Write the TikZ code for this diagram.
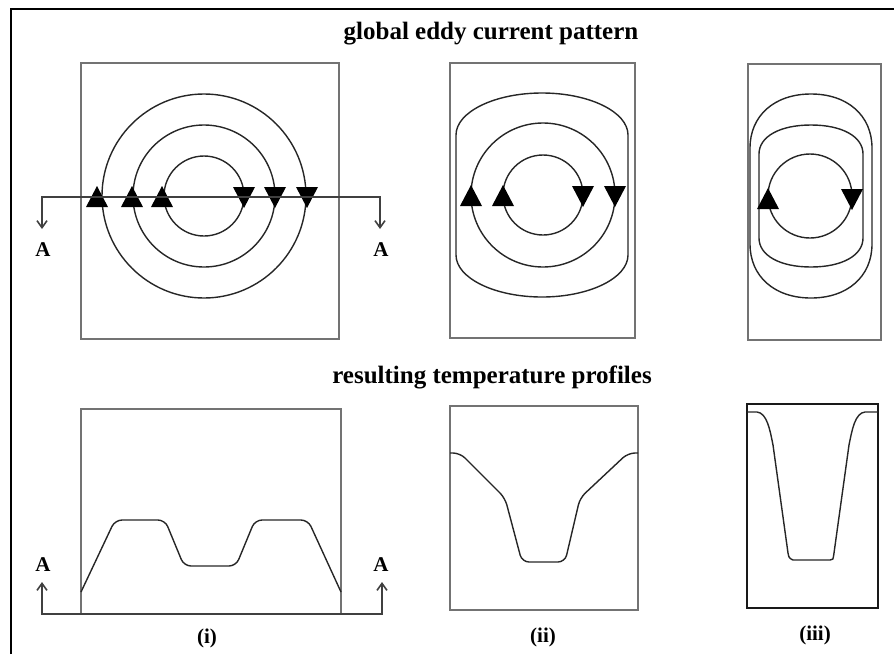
\documentclass[tikz,border=0pt]{standalone}
\usepackage{fontspec}
\setmainfont{Liberation Serif}
\usetikzlibrary{arrows.meta,positioning}

% loop about (#1,#2): half height #3, half width #4, straight half side #5, corner squareness #6
\newcommand{\flatloop}[6]{%
  \draw[loop] (#1-#4,#2-#5) .. controls (#1-#4,#2-#5-#6*#3+#6*#5) and (#1-#6*#4,#2-#3) .. (#1,#2-#3)
    .. controls (#1+#6*#4,#2-#3) and (#1+#4,#2-#5-#6*#3+#6*#5) .. (#1+#4,#2-#5)
    -- (#1+#4,#2+#5) .. controls (#1+#4,#2+#5+#6*#3-#6*#5) and (#1+#6*#4,#2+#3) .. (#1,#2+#3)
    .. controls (#1-#6*#4,#2+#3) and (#1-#4,#2+#5+#6*#3-#6*#5) .. (#1-#4,#2+#5) -- cycle;
}
\newcommand{\uptri}[2]{\fill (#1,#2-11) -- (#1+11,#2+10) -- (#1-11,#2+10) -- cycle;}
\newcommand{\dntri}[2]{\fill (#1,#2+11) -- (#1+11,#2-10) -- (#1-11,#2-10) -- cycle;}

\begin{document}
\begin{tikzpicture}[x=1pt, y=-1pt, >={Straight Barb[length=7pt,width=10pt]},
  frame/.style={draw=black!55, line width=1.8pt},
  loop/.style={draw=black!85, line width=1.4pt},
  profile/.style={draw=black!85, line width=1.4pt},
  section/.style={draw=black!75, line width=1.6pt},
  heading/.style={font=\fontsize{25}{30}\selectfont\bfseries, inner sep=0pt},
  tag/.style={font=\fontsize{21}{25}\selectfont\bfseries, inner sep=0pt}]
  \useasboundingbox (0,0) rectangle (894,654);
  \draw[line width=2pt] (11,654) -- (11,9) -- (894,9);

  \node[heading] (ttop) at (491,34) {global eddy current pattern};
  \node[heading] (tbot) at (492,377) {resulting temperature profiles};

  % eddy currents, square plate
  \draw[frame] (81,63) rectangle (339,339);
  \foreach \r in {102,71,40}
    \draw[loop] (204,196) circle[radius=\r];
  \foreach \x in {97,132,162} {\uptri{\x}{197}}
  \foreach \x in {244,275,307} {\dntri{\x}{197}}
  \coordinate (cutTL) at (42,197);
  \coordinate (cutTR) at (380,197);
  \coordinate (tipTL) at (42,229);
  \coordinate (tipTR) at (380,229);
  \draw[section,<->] (tipTL) -- (cutTL) -- (cutTR) -- (tipTR);
  \node[tag] (aTL) at (43,250) {A};
  \node[tag] (aTR) at (381,250) {A};

  % eddy currents, narrower plate
  \draw[frame] (450,63) rectangle (635,338);
  \flatloop{542}{195}{102}{86}{60}{0.55}
  \draw[loop] (543,195) circle[radius=72];
  \draw[loop] (543,195) circle[radius=40];
  \foreach \x in {471,503} {\uptri{\x}{196}}
  \foreach \x in {583,615} {\dntri{\x}{196}}

  % eddy currents, narrowest plate
  \draw[frame] (748,64) rectangle (881,340);
  \flatloop{811}{196}{102}{61}{48}{0.6}
  \flatloop{811}{196}{71}{52}{42}{0.6}
  \draw[loop] (810,196) circle[radius=42];
  \uptri{768}{199}
  \dntri{852}{199}

  % temperature profiles
  \draw[frame] (81,614) -- (81,409) -- (341,409) -- (341,614);
  \draw[profile, rounded corners=7pt] (81,592) -- (115,520) -- (165,520) -- (184,566)
    -- (236,566) -- (255,520) -- (308,520) -- (341,592);
  \coordinate (cutBL) at (42,614);
  \coordinate (cutBR) at (382,614);
  \coordinate (tipBL) at (42,582);
  \coordinate (tipBR) at (382,582);
  \draw[section,<->] (tipBL) -- (cutBL) -- (cutBR) -- (tipBR);
  \node[tag] (aBL) at (43,565) {A};
  \node[tag] (aBR) at (381,565) {A};

  \draw[frame] (450,406) rectangle (638,610);
  \draw[profile, rounded corners=7pt] (450,453) -- (460,453) -- (505,498) -- (522,562)
    -- (565,562) -- (580,498) -- (628,453) -- (638,453);

  \draw[frame, draw=black!90] (747,404) rectangle (878,608);
  \draw[profile] (747,412) -- (757,412) .. controls (767,413) and (770,430) .. (773,445)
    -- (788,553) .. controls (789,558) .. (793,560) -- (830,560) .. controls (833,560) .. (834,553)
    -- (849,445) .. controls (852,430) and (855,413) .. (865,412) -- (878,412);

  \node[tag] (capi) at (207,638) {(i)};
  \node[tag] (capii) at (543,637) {(ii)};
  \node[tag] (capiii) at (815,635) {(iii)};
\end{tikzpicture}
\end{document}
